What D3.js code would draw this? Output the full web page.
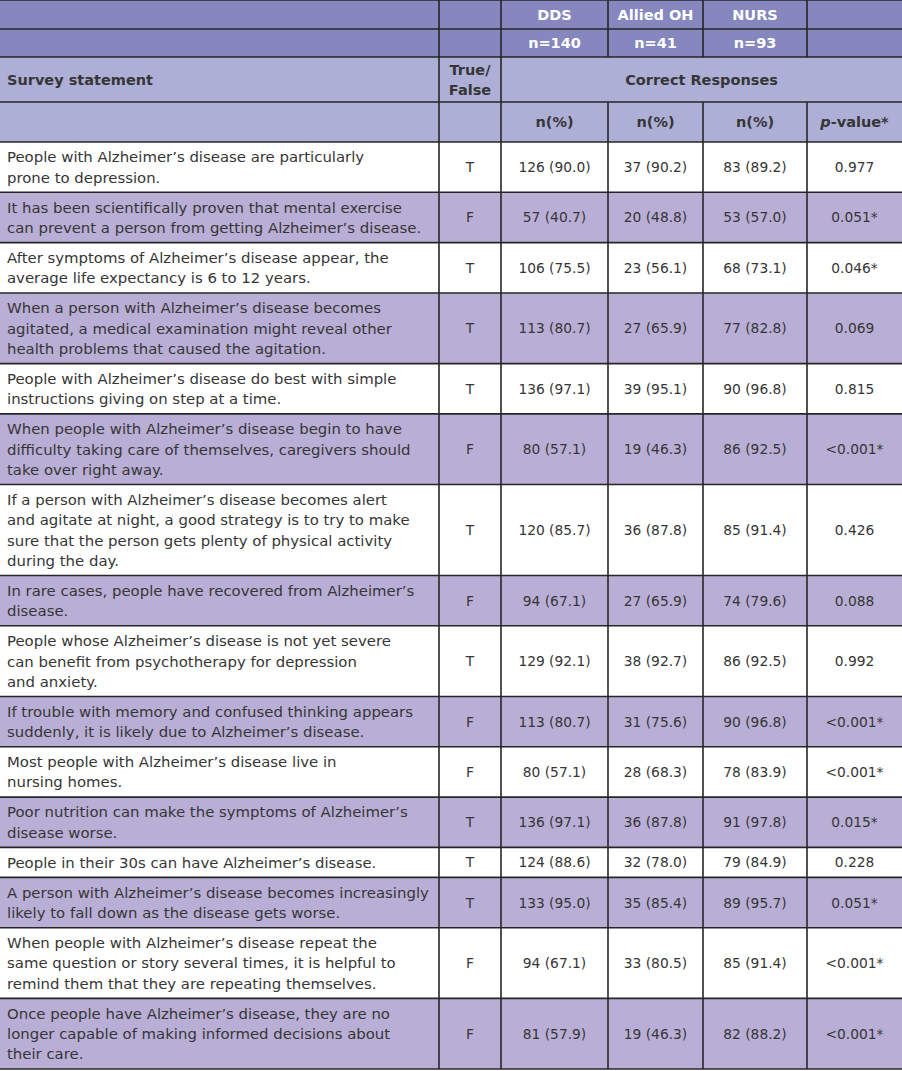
<!DOCTYPE html>
<html>
<head>
<meta charset="utf-8">
<script src="https://cdn.jsdelivr.net/npm/d3@7"></script>
<style>
  body { margin: 0; background: #fff; }
  svg text { font-family: "DejaVu Sans", sans-serif; }
</style>
</head>
<body>
<div id="chart"></div>
<script>
// --- data ---
var statements = [
  ["People with Alzheimer\u2019s disease are particularly", "prone to depression."],
  ["It has been scientifically proven that mental exercise", "can prevent a person from getting Alzheimer\u2019s disease."],
  ["After symptoms of Alzheimer\u2019s disease appear, the", "average life expectancy is 6 to 12 years."],
  ["When a person with Alzheimer\u2019s disease becomes", "agitated, a medical examination might reveal other", "health problems that caused the agitation."],
  ["People with Alzheimer\u2019s disease do best with simple", "instructions giving on step at a time."],
  ["When people with Alzheimer\u2019s disease begin to have", "difficulty taking care of themselves, caregivers should", "take over right away."],
  ["If a person with Alzheimer\u2019s disease becomes alert", "and agitate at night, a good strategy is to try to make", "sure that the person gets plenty of physical activity", "during the day."],
  ["In rare cases, people have recovered from Alzheimer\u2019s", "disease."],
  ["People whose Alzheimer\u2019s disease is not yet severe", "can benefit from psychotherapy for depression", "and anxiety."],
  ["If trouble with memory and confused thinking appears", "suddenly, it is likely due to Alzheimer\u2019s disease."],
  ["Most people with Alzheimer\u2019s disease live in", "nursing homes."],
  ["Poor nutrition can make the symptoms of Alzheimer\u2019s", "disease worse."],
  ["People in their 30s can have Alzheimer\u2019s disease."],
  ["A person with Alzheimer\u2019s disease becomes increasingly", "likely to fall down as the disease gets worse."],
  ["When people with Alzheimer\u2019s disease repeat the", "same question or story several times, it is helpful to", "remind them that they are repeating themselves."],
  ["Once people have Alzheimer\u2019s disease, they are no", "longer capable of making informed decisions about", "their care."]
];
var trueFalse = ["T","F","T","T","T","F","T","F","T","F","F","T","T","T","F","F"];
var ddsN   = [126,57,106,113,136,80,120,94,129,113,80,136,124,133,94,81];
var ddsPct = [90.0,40.7,75.5,80.7,97.1,57.1,85.7,67.1,92.1,80.7,57.1,97.1,88.6,95.0,67.1,57.9];
var ohN    = [37,20,23,27,39,19,36,27,38,31,28,36,32,35,33,19];
var ohPct  = [90.2,48.8,56.1,65.9,95.1,46.3,87.8,65.9,92.7,75.6,68.3,87.8,78.0,85.4,80.5,46.3];
var nursN  = [83,53,68,77,90,86,85,74,86,90,78,91,79,89,85,82];
var nursPct= [89.2,57.0,73.1,82.8,96.8,92.5,91.4,79.6,92.5,96.8,83.9,97.8,84.9,95.7,91.4,88.2];
var pValues = ["0.977","0.051*","0.046*","0.069","0.815","<0.001*","0.426","0.088","0.992","<0.001*","<0.001*","0.015*","0.228","0.051*","<0.001*","<0.001*"];
var groups = ["DDS","Allied OH","NURS"];
var groupN = ["n=140","n=41","n=93"];

// --- layout ---
var W = 902, H = 1071;
var colKeys = ["stmt","tf","dds","oh","nurs","p"];
var colEdges = [0, 439, 501, 608, 703, 807, 902];
var x = d3.scaleOrdinal().domain(colKeys).range(colEdges.slice(0, 6));
var xr = d3.scaleOrdinal().domain(colKeys).range(colEdges.slice(1));
var xc = function(k){ return (x(k) + xr(k)) / 2; };

var headTops = [0, 29, 57, 102, 142];
var bodyTop = 142, bodyBottom = 1069;
var rowPad = 0.476;  // row padding expressed in text lines
var units = [0];
statements.forEach(function(s, i){ units.push(units[i] + s.length + rowPad); });
var y = d3.scaleLinear().domain([0, units[units.length-1]]).range([bodyTop, bodyBottom]);

var cDark = "#8587be", cLight = "#aeafd6", cRow = "#b9aed5", cLine = "#262626", cText = "#363636";
var FS = 14.9, FN = 13.8, FH = 14.5, LH = 20.3;

var svg = d3.select("#chart").append("svg").attr("width", W).attr("height", H);

// header backgrounds
var headFill = [cDark, cDark, cLight, cLight];
svg.selectAll("rect.head").data(headFill).enter().append("rect")
  .attr("x", 0).attr("y", function(d,i){ return headTops[i]; })
  .attr("width", W).attr("height", function(d,i){ return headTops[i+1]-headTops[i]; })
  .attr("fill", function(d){ return d; });

// body rows
var rows = statements.map(function(s, i){
  return {i: i, lines: s, top: y(units[i]), bottom: y(units[i+1]),
          cells: {tf: trueFalse[i],
                  dds: ddsN[i] + " (" + ddsPct[i].toFixed(1) + ")",
                  oh: ohN[i] + " (" + ohPct[i].toFixed(1) + ")",
                  nurs: nursN[i] + " (" + nursPct[i].toFixed(1) + ")",
                  p: pValues[i]}};
});
var g = svg.selectAll("g.row").data(rows).enter().append("g").attr("class","row");
g.append("rect").attr("x", 0).attr("y", function(d){ return d.top; })
  .attr("width", W).attr("height", function(d){ return d.bottom - d.top; })
  .attr("fill", function(d){ return d.i % 2 ? cRow : "#ffffff"; });

g.each(function(d){
  var sel = d3.select(this);
  var cy = (d.top + d.bottom) / 2;
  var n = d.lines.length;
  sel.append("text").attr("fill", cText).attr("font-size", FS)
    .selectAll("tspan").data(d.lines).enter().append("tspan")
    .attr("x", 7).attr("y", function(t, j){ return cy + (j - (n-1)/2) * LH; })
    .attr("dy", "0.36em").text(function(t){ return t; });
  ["tf","dds","oh","nurs","p"].forEach(function(k){
    sel.append("text").attr("x", xc(k)).attr("y", cy).attr("dy", "0.36em")
      .attr("text-anchor", "middle").attr("fill", cText).attr("font-size", FN)
      .text(d.cells[k]);
  });
});

// header text
function headText(k, yy, txt, color, span){
  var cx = span ? (x(span[0]) + xr(span[1])) / 2 : xc(k);
  return svg.append("text").attr("x", cx).attr("y", yy).attr("dy", "0.36em")
    .attr("text-anchor", "middle").attr("font-weight", "bold")
    .attr("font-size", FH).attr("fill", color).text(txt);
}
["dds","oh","nurs"].forEach(function(k, i){
  headText(k, (headTops[0]+headTops[1])/2, groups[i], "#ffffff");
  headText(k, (headTops[1]+headTops[2])/2, groupN[i], "#ffffff");
  headText(k, (headTops[3]+headTops[4])/2, "n(%)", cText);
});
var pv = headText("p", (headTops[3]+headTops[4])/2, "", cText);
pv.append("tspan").attr("font-style", "italic").text("p");
pv.append("tspan").text("-value*");
svg.append("text").attr("x", 7).attr("y", (headTops[2]+headTops[3])/2).attr("dy", "0.36em")
  .attr("font-weight", "bold").attr("font-size", FH).attr("fill", cText).text("Survey statement");
var tfh = svg.append("text").attr("text-anchor", "middle").attr("font-weight", "bold")
  .attr("font-size", FH).attr("fill", cText);
["True/","False"].forEach(function(t, j){
  tfh.append("tspan").attr("x", xc("tf")).attr("y", (headTops[2]+headTops[3])/2 + (j-0.5)*LH)
    .attr("dy", "0.36em").text(t);
});
headText(null, (headTops[2]+headTops[3])/2, "Correct Responses", cText, ["dds","p"]);

// grid lines
var hLines = headTops.concat(rows.map(function(d){ return d.bottom; }));
svg.selectAll("line.h").data(hLines).enter().append("line")
  .attr("x1", 0).attr("x2", W).attr("y1", function(d){ return d; }).attr("y2", function(d){ return d; })
  .attr("stroke", cLine).attr("stroke-width", 1.6);

var vSegs = [];
["tf","dds"].forEach(function(k){ vSegs.push({x: x(k), y1: 0, y2: bodyBottom}); });
["oh","nurs","p"].forEach(function(k){
  vSegs.push({x: x(k), y1: 0, y2: headTops[2]});
  vSegs.push({x: x(k), y1: headTops[3], y2: bodyBottom});
});
svg.selectAll("line.v").data(vSegs).enter().append("line")
  .attr("x1", function(d){ return d.x; }).attr("x2", function(d){ return d.x; })
  .attr("y1", function(d){ return d.y1; }).attr("y2", function(d){ return d.y2; })
  .attr("stroke", cLine).attr("stroke-width", 1.6);
</script>
</body>
</html>
